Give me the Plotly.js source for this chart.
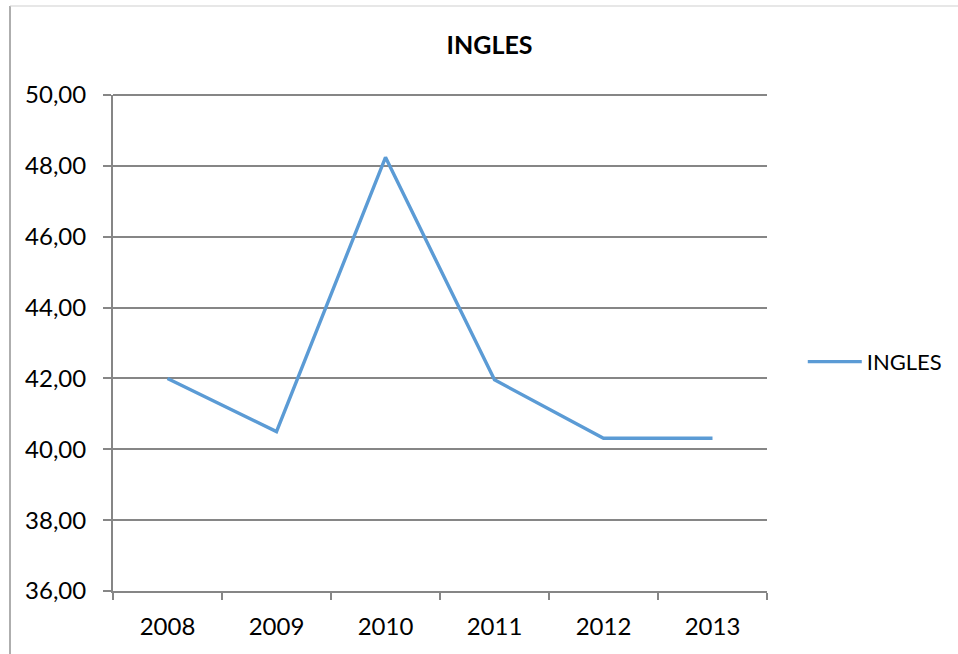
<!DOCTYPE html>
<html>
<head>
<meta charset="utf-8">
<script src="https://cdn.plot.ly/plotly-3.0.1.min.js"></script>
<style>
  html, body { margin: 0; padding: 0; background: #fff; }
  #chart { width: 958px; height: 654px; }
</style>
</head>
<body>
<div id="chart"></div>
<script>
const years = ["2008", "2009", "2010", "2011", "2012", "2013"];
const ingles = [42.00, 40.50, 48.24, 41.96, 40.31, 40.31];
const seriesName = "INGLES";
const chartTitle = "INGLES";

const gridColor = "#868686";
const fontFam = "Lato, 'Open Sans', sans-serif";

const trace = {
  type: "scatter",
  mode: "lines",
  x: years,
  y: ingles,
  name: seriesName,
  line: { color: "#5B9BD5", width: 3.4 },
  hoverinfo: "x+y"
};

const layout = {
  width: 958,
  height: 654,
  margin: { l: 113, r: 191, t: 95, b: 63, autoexpand: false },
  paper_bgcolor: "#ffffff",
  plot_bgcolor: "#ffffff",
  separators: ",.",
  font: { family: fontFam, size: 24, color: "#000000" },
  title: {
    text: "<b>" + chartTitle + "</b>",
    font: { family: fontFam, size: 25, color: "#000000" },
    x: 0.511, xref: "container", xanchor: "center",
    y: 0.931, yref: "container", yanchor: "middle"
  },
  showlegend: true,
  legend: {
    x: 1.0547, xanchor: "left",
    y: 0.462, yanchor: "middle",
    itemwidth: 54,
    font: { family: fontFam, size: 22, color: "#000000" },
    bgcolor: "rgba(0,0,0,0)"
  },
  xaxis: {
    type: "category",
    range: [-0.5, 5.5],
    tickson: "boundaries",
    ticks: "outside",
    ticklen: 7,
    tickwidth: 2,
    tickcolor: gridColor,
    showline: true,
    linecolor: gridColor,
    linewidth: 2,
    showgrid: false,
    zeroline: false,
    automargin: false,
    tickfont: { family: fontFam, size: 24, color: "#000000" },
    ticklabelstandoff: 13,
    fixedrange: true
  },
  yaxis: {
    range: [36, 50],
    dtick: 2,
    tick0: 36,
    tickformat: ".2f",
    ticks: "outside",
    ticklen: 8,
    tickwidth: 2,
    tickcolor: gridColor,
    showline: true,
    linecolor: gridColor,
    linewidth: 2,
    showgrid: true,
    gridcolor: gridColor,
    gridwidth: 2,
    zeroline: false,
    automargin: false,
    tickfont: { family: fontFam, size: 24, color: "#000000" },
    ticklabelstandoff: 12,
    fixedrange: true
  },
  shapes: [
    // top gridline (at the upper edge of the value range)
    { type: "line", xref: "paper", yref: "paper",
      x0: 0, x1: 1, y0: 1, y1: 1, layer: "below",
      line: { color: gridColor, width: 2 } },
    // chart-area border (left and top edges)
    { type: "line", xref: "paper", yref: "paper",
      x0: (10 - 113) / 654, x1: (10 - 113) / 654,
      y0: (591 - 6) / 496, y1: (591 - 660) / 496,
      line: { color: "#9a9a9a", width: 1.6 } },
    { type: "line", xref: "paper", yref: "paper",
      x0: (10 - 113) / 654, x1: (965 - 113) / 654,
      y0: (591 - 6) / 496, y1: (591 - 6) / 496,
      line: { color: "#cfcfcf", width: 1.2 } }
  ]
};

Plotly.newPlot("chart", [trace], layout, { displayModeBar: false, staticPlot: true });
</script>
</body>
</html>
